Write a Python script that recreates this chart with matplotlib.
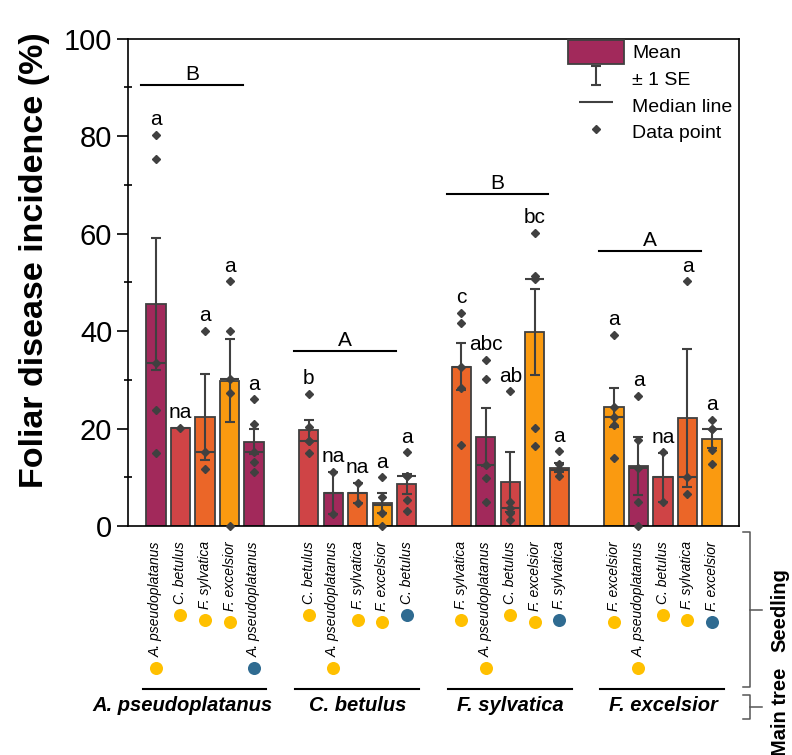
import numpy as np
import matplotlib
matplotlib.use("Agg")
import matplotlib.pyplot as plt
from matplotlib.patches import Patch
from matplotlib.lines import Line2D
from matplotlib.container import ErrorbarContainer
from matplotlib.legend_handler import HandlerErrorbar

plt.rcParams['font.family'] = ['Liberation Sans', 'DejaVu Sans']

# ---------------- data ----------------
main_trees = ["A. pseudoplatanus", "C. betulus", "F. sylvatica", "F. excelsior"]
group_letters = ["B", "A", "B", "A"]
group_letter_y = [90.5, 36.0, 68.2, 56.5]

seedlings = [
    ["A. pseudoplatanus", "C. betulus", "F. sylvatica", "F. excelsior", "A. pseudoplatanus"],
    ["C. betulus", "A. pseudoplatanus", "F. sylvatica", "F. excelsior", "C. betulus"],
    ["F. sylvatica", "A. pseudoplatanus", "C. betulus", "F. excelsior", "F. sylvatica"],
    ["F. excelsior", "A. pseudoplatanus", "C. betulus", "F. sylvatica", "F. excelsior"],
]
origin = [
    ["other", "other", "other", "other", "main"],
    ["other", "other", "other", "other", "main"],
    ["other", "other", "other", "other", "main"],
    ["other", "other", "other", "other", "main"],
]

means = [
    [45.6, 20.1, 22.3, 29.8, 17.3],
    [19.6, 6.8, 6.8, 4.7, 8.6],
    [32.7, 18.3, 9.0, 39.8, 12.0],
    [24.4, 12.3, 10.0, 22.2, 17.9],
]
ses = [
    [13.5, np.nan, 8.8, 8.5, 2.6],
    [2.1, 4.3, 2.0, 2.1, 2.1],
    [4.8, 5.9, 6.1, 8.9, 0.9],
    [4.0, 6.0, 5.0, 14.1, 2.0],
]
medians = [
    [33.5, 20.1, 15.1, 30.1, 15.1],
    [17.5, 6.8, 6.8, 4.4, 10.3],
    [32.7, 12.5, 3.6, 50.6, 11.5],
    [22.4, 11.8, 10.0, 10.0, 19.9],
]
points_g1 = [[80.3, 75.3, 33.5, 23.7, 15.0], [20.1], [40.1, 15.1, 11.6],
             [50.2, 40.1, 30.1, 27.2, 0.0], [26.0, 20.9, 15.1, 13.1, 11.1]]
points_g2 = [[27.1, 20.3, 17.5, 17.5, 14.9], [11.1, 2.5], [8.8, 4.8],
             [10.0, 6.0, 2.7, 0.0], [15.1, 10.3, 10.3, 5.3, 3.1]]
points_g3 = [[43.7, 41.7, 32.7, 28.3, 16.6], [34.1, 30.1, 12.5, 9.8, 5.0],
             [27.6, 5.0, 3.6, 2.6, 1.2], [60.2, 51.3, 50.6, 20.1, 16.4],
             [15.3, 12.7, 11.5, 11.5, 10.3]]
points_g4 = [[39.2, 24.5, 22.4, 20.7, 13.9], [26.7, 17.7, 11.8, 5.0, 0.0],
             [15.1, 5.0], [50.2, 10.0, 6.6], [21.8, 19.9, 19.9, 15.5, 12.7]]
points = [points_g1, points_g2, points_g3, points_g4]

letters = [
    ["a", "na", "a", "a", "a"],
    ["b", "na", "na", "a", "a"],
    ["c", "abc", "ab", "bc", "a"],
    ["a", "a", "na", "a", "a"],
]

# ---------------- styles ----------------
species_color = {
    "A. pseudoplatanus": "#A2295B",
    "C. betulus": "#CF4446",
    "F. sylvatica": "#EB6628",
    "F. excelsior": "#FA9A10",
}
origin_color = {"other": "#FFC000", "main": "#2F6B91"}
dark = "#404040"
group_step = 6.23
bar_w = 0.78

fig = plt.figure(figsize=(7.92, 7.55), dpi=100)
ax = fig.add_axes([128.3 / 792, 1 - 526 / 755, (738.7 - 128.3) / 792, (526 - 38.5) / 755])

xs_all, labels_all, dotc_all = [], [], []
eb_handle = None
for g in range(4):
    x0 = g * group_step
    xs = x0 + np.arange(5)
    cols = [species_color[s] for s in seedlings[g]]
    ax.bar(xs, means[g], width=bar_w, color=cols, edgecolor=dark, linewidth=1.3, zorder=2)
    eb = ax.errorbar(xs, means[g], yerr=ses[g], fmt='none', ecolor=dark, elinewidth=1.5,
                     capsize=3.8, capthick=1.5, zorder=3)
    if eb_handle is None:
        eb_handle = eb
    ax.hlines(medians[g], xs - bar_w / 2, xs + bar_w / 2, color=dark, linewidth=1.5, zorder=3)
    for i in range(5):
        p = points[g][i]
        ax.plot([xs[i]] * len(p), p, linestyle='none', marker='D', ms=3.8, color=dark,
                zorder=4, clip_on=False)
        top = max(max(p), means[g][i] + (0 if np.isnan(ses[g][i]) else ses[g][i]))
        ax.text(xs[i], top + 2.0, letters[g][i], ha='center', va='baseline', fontsize=15)
    # group significance line
    ax.plot([x0 - 0.6, x0 + 3.55], [group_letter_y[g]] * 2, color='black', lw=1.5)
    ax.text(x0 + 1.48, group_letter_y[g] + 0.9, group_letters[g], ha='center', va='baseline',
            fontsize=15)
    # main-tree underline and label
    trans = ax.get_xaxis_transform()
    ax.plot([x0 - 0.55, x0 + 4.5], [-0.3344, -0.3344], color='black', lw=1.5,
            transform=trans, clip_on=False)
    lab_off = -0.92 if g == 0 else 0.0
    ax.text(x0 + 2 + lab_off, -0.369, main_trees[g], transform=trans, ha='center', va='center',
            fontsize=14.5, fontweight='bold', style='italic')
    xs_all += list(xs)
    labels_all += seedlings[g]
    dotc_all += [origin_color[o] for o in origin[g]]

ax.set_xlim(-1.13, 23.78)
ax.set_ylim(0, 100)
ax.set_yticks(np.arange(0, 101, 20))
ax.set_yticks(np.arange(10, 100, 20), minor=True)
ax.tick_params(axis='y', which='major', labelsize=21, length=8, width=1.2, direction='out')
ax.tick_params(axis='y', which='minor', length=6, width=1.2, direction='inout')
ax.set_xticks(xs_all)
ax.set_xticklabels(labels_all, rotation=90, fontsize=10, style='italic', va='top', ha='center')
ax.tick_params(axis='x', length=0, pad=11)
for sp in ax.spines.values():
    sp.set_linewidth(1.2)

ax.set_ylabel("Foliar disease incidence (%)", fontsize=24.5, fontweight='bold')
ax.yaxis.set_label_coords(-0.128, 0.546)

# legend
handles = [
    Patch(facecolor=species_color["A. pseudoplatanus"], edgecolor=dark, linewidth=1.3),
    eb_handle,
    Line2D([], [], linestyle='none', marker='_', ms=24, mew=1.5, color=dark),
    Line2D([], [], linestyle='none', marker='D', ms=3.8, color=dark),
]
leg = ax.legend(handles, ["Mean", "\u00b1 1 SE", "Median line", "Data point"],
                loc='upper left', bbox_to_anchor=(0.72, 0.997), frameon=False, fontsize=14,
                borderpad=0, borderaxespad=0, handlelength=2.9, handleheight=1.5,
                labelspacing=0.15, handletextpad=0.4,
                handler_map={ErrorbarContainer: HandlerErrorbar(xerr_size=0.5, yerr_size=0.5)})

# coloured origin dots below the rotated labels
fig.canvas.draw()
renderer = fig.canvas.get_renderer()
inv = ax.transData.inverted()
for lab, x, c in zip(ax.get_xticklabels(), xs_all, dotc_all):
    bb = lab.get_window_extent(renderer)
    xd = ax.transData.transform((x, 0))[0]
    yd = inv.transform((xd, bb.y0 - 11))[1]
    ax.plot([x], [yd], marker='o', ms=9.4, color=c, mec='none', clip_on=False)

# right-hand brackets
def fx(px):
    return px / 792
def fy(py):
    return 1 - py / 755
bcol = "#555555"
for (t, b, m) in [(532, 687, 610), (695, 719, 707)]:
    fig.add_artist(Line2D([fx(743), fx(750), fx(750), fx(743)], [fy(t), fy(t), fy(b), fy(b)],
                          color=bcol, lw=1.1, transform=fig.transFigure))
    fig.add_artist(Line2D([fx(750), fx(762)], [fy(m), fy(m)], color=bcol, lw=1.1,
                          transform=fig.transFigure))
fig.text(fx(780), fy(610), "Seedling", rotation=90, ha='center', va='center', fontsize=14.5,
         fontweight='bold')
fig.text(fx(780), fy(668), "Main tree", rotation=90, ha='center', va='top', fontsize=14.5,
         fontweight='bold')

fig.savefig("out.png", dpi=100)
